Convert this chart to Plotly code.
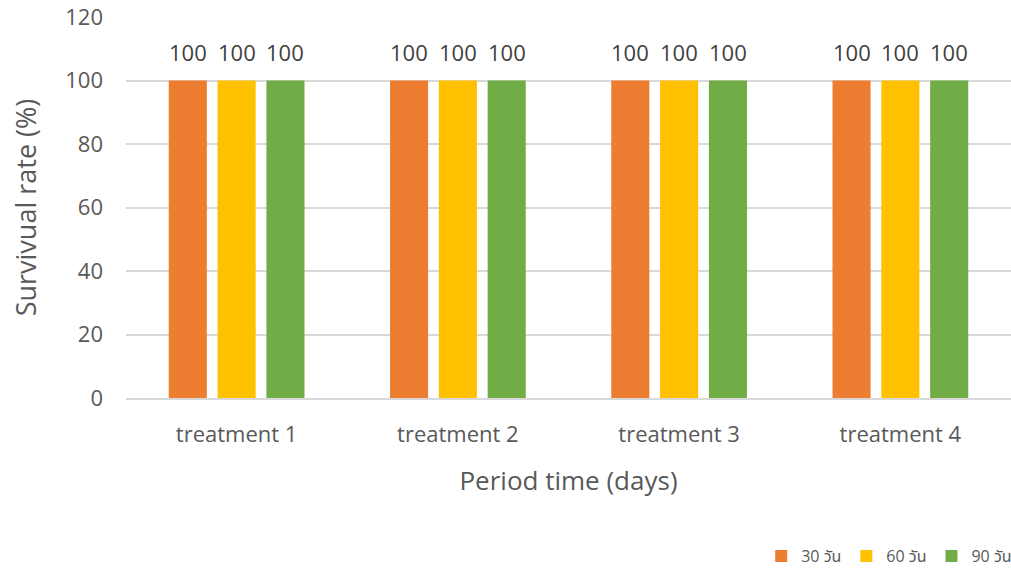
import plotly.graph_objects as go

categories = ["treatment 1", "treatment 2", "treatment 3", "treatment 4"]
series_names = ["30 วัน", "60 วัน", "90 วัน"]
values_30 = [100, 100, 100, 100]
values_60 = [100, 100, 100, 100]
values_90 = [100, 100, 100, 100]
colors = ["#ED7D31", "#FFC000", "#70AD47"]
y_ticks = [0, 20, 40, 60, 80, 100, 120]

FONT = "Open Sans, Noto Sans, Noto Sans Thai, DejaVu Sans, sans-serif"
W, H = 1011, 572
ML, MR, MT, MB = 126, 0, 17, 174
BARGAP, GROUPGAP = 0.338, 0.22

fig = go.Figure()
series = [values_30, values_60, values_90]
for name, vals, col in zip(series_names, series, colors):
    fig.add_trace(go.Bar(
        x=categories, y=vals, name=name,
        marker=dict(color=col, line=dict(width=0)),
        hoverinfo="x+y+name",
    ))

# value labels above each bar, offset horizontally to sit over its bar
cat_px = (W - ML - MR) / len(categories)
slot_px = cat_px * (1 - BARGAP) / len(series)
annotations = []
for si, vals in enumerate(series):
    shift = (si - (len(series) - 1) / 2) * slot_px
    for cat, v in zip(categories, vals):
        annotations.append(dict(
            x=cat, y=v, xref="x", yref="y", text=str(v), showarrow=False,
            xshift=shift, yshift=12, yanchor="bottom",
            font=dict(size=22, color="#404040", family=FONT),
        ))

fig.update_layout(
    width=W, height=H,
    margin=dict(l=ML, r=MR, t=MT, b=MB, autoexpand=False),
    paper_bgcolor="white", plot_bgcolor="white",
    barmode="group", bargap=BARGAP, bargroupgap=GROUPGAP,
    font=dict(family=FONT, color="#595959"),
    annotations=annotations,
    showlegend=True,
    legend=dict(orientation="h", x=1.007, xanchor="right", y=-0.415, yanchor="middle",
                font=dict(size=16, color="#595959"), traceorder="normal",
                itemwidth=30),
    xaxis=dict(
        showgrid=False, showline=True, linecolor="#D9D9D9", linewidth=2,
        ticks="", ticklabelstandoff=16, tickfont=dict(size=22, color="#595959"),
        title=dict(text="Period time (days)", font=dict(size=26, color="#595959"), standoff=24),
    ),
    yaxis=dict(
        range=[0, 120], tickvals=y_ticks, showgrid=True, gridcolor="#D9D9D9", gridwidth=2,
        zeroline=False, showline=False, ticks="", ticklabelstandoff=22,
        tickfont=dict(size=22, color="#595959"),
        title=dict(text="Survivual rate (%)", font=dict(size=27, color="#595959"), standoff=20),
    ),
)

fig.write_html("out.html")
